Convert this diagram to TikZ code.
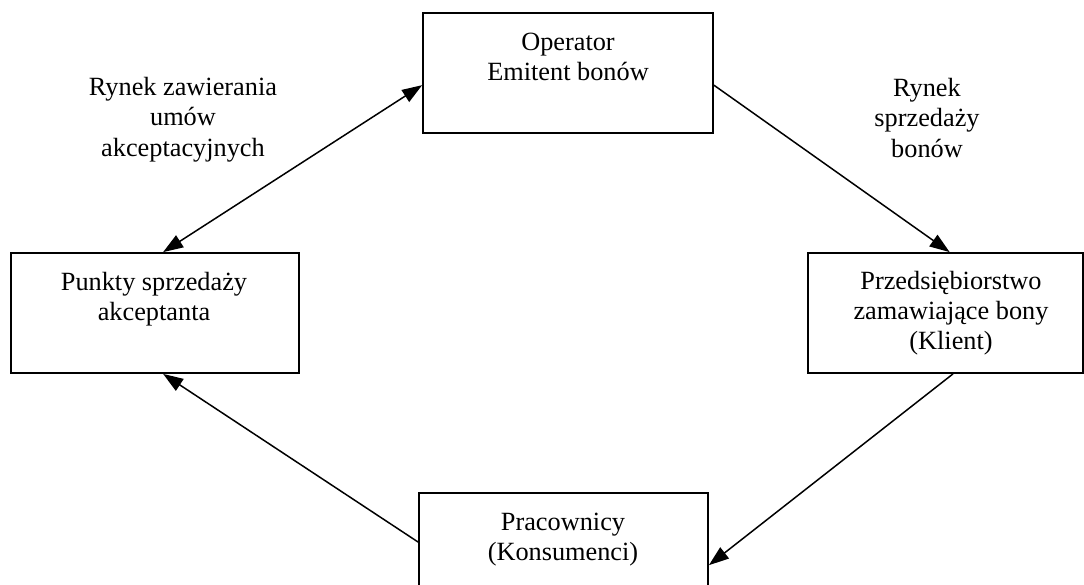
\documentclass[tikz,border=0pt]{standalone}
\usepackage{fontspec}
\setmainfont{Liberation Serif}
\usetikzlibrary{arrows.meta,calc}
\begin{document}
\begin{tikzpicture}[x=1pt,y=-1pt,
  box/.style={draw=black,line width=1.8pt,inner sep=0pt,minimum height=120pt},
  txt/.style={align=center,inner sep=0pt,anchor=north,font=\fontsize{26.3}{30}\selectfont},
  lbl/.style={align=center,inner sep=0pt,anchor=north,font=\fontsize{26.3}{30.5}\selectfont},
  arr/.style={line width=1.5pt,-{Triangle[length=20pt,width=14pt]}},
  darr/.style={line width=1.5pt,{Triangle[length=20pt,width=14pt]}-{Triangle[length=20pt,width=14pt]}}]
\useasboundingbox (0,0) rectangle (1084,584);
\clip (0,0) rectangle (1084,584);
% boxes
\node[box,minimum width=290pt] (op) at (568,73) {};
\node[box,minimum width=288pt] (pk) at (155,313) {};
\node[box,minimum width=275pt] (pr) at (945.5,313) {};
\node[box,minimum width=289pt] (pw) at (563.5,553) {};
% box texts
\node[txt] (opt) at (568,30) {\rule{0pt}{20pt}Operator\\Emitent bonów};
\node[txt] (pkt) at (154,270) {\rule{0pt}{20pt}Punkty sprzedaży\\akceptanta};
\node[txt] (prt) at (951,269) {\rule{0pt}{20pt}Przedsiębiorstwo\\zamawiające bony\\(Klient)};
\node[txt] (pwt) at (563,510) {\rule{0pt}{20pt}Pracownicy\\(Konsumenci)};
% labels
\node[lbl] (l1) at (183,75) {\rule{0pt}{20pt}Rynek zawierania\\umów\\akceptacyjnych};
\node[lbl] (l2) at (927,76) {\rule{0pt}{20pt}Rynek\\sprzedaży\\bonów};
% connectors
\draw[darr] ($(pk.north west)!0.528!(pk.north east)$) -- ($(op.north west)!0.6!(op.south west)$);
\draw[arr] ($(op.north east)!0.6!(op.south east)$) -- ($(pr.north west)!0.515!(pr.north east)$);
\draw[arr] ($(pr.south west)!0.527!(pr.south east)$) -- ($(pw.north east)!0.6!(pw.south east)$);
\draw[arr] ($(pw.north west)!0.41!(pw.south west)$) -- ($(pk.south west)!0.528!(pk.south east)$);
\end{tikzpicture}
\end{document}
